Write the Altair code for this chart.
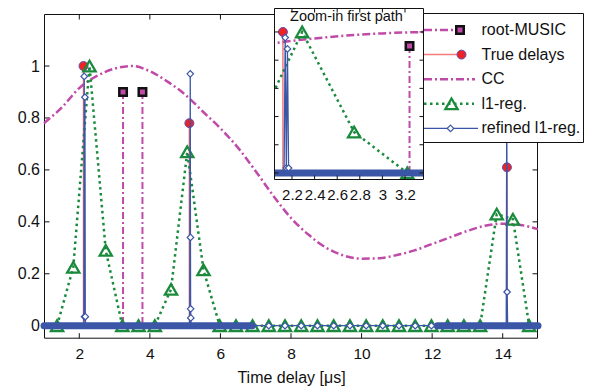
import altair as alt
import pandas as pd

# ------------------------------------------------------------------ data
cc_x = [1.0, 1.5, 2.0, 2.5, 3.0, 3.5, 4.0, 4.5, 5.0, 5.5, 6.0, 6.5, 7.0, 7.5,
        8.0, 8.5, 9.0, 9.5, 10.0, 10.5, 11.0, 11.5, 12.0, 12.5, 13.0, 13.5,
        14.0, 14.5, 15.0]
cc_y = [0.78, 0.84, 0.915, 0.962, 0.99, 1.0, 0.98, 0.94, 0.89, 0.825, 0.76,
        0.685, 0.595, 0.50, 0.415, 0.35, 0.30, 0.27, 0.258, 0.26, 0.272,
        0.29, 0.315, 0.34, 0.365, 0.385, 0.393, 0.388, 0.372]

music_x = [3.24, 3.79]
music_y = [0.90, 0.90]

true_x = [2.12, 5.12, 14.12]
true_y = [1.00, 0.78, 0.61]

l1_x = [1.37, 1.83, 2.29, 2.75, 3.22, 3.68, 4.14, 4.60, 5.06, 5.52, 5.98,
        6.44, 6.91, 7.37, 7.83, 8.29, 8.75, 9.21, 9.67, 10.13, 10.60, 11.06,
        11.52, 11.98, 12.44, 12.90, 13.36, 13.83, 14.29, 14.75]
l1_y = [0, 0.225, 1.0, 0.29, 0, 0, 0, 0.14, 0.67, 0.215, 0,
        0, 0, 0, 0, 0, 0, 0, 0, 0, 0, 0,
        0, 0, 0, 0, 0, 0.43, 0.41, 0]

ref_x = [1.0, 2.13, 2.14, 2.15, 2.16, 2.17, 2.18,
         5.13, 5.145, 5.15, 5.155, 5.16, 5.17, 6.9,
         7.37, 7.83, 8.29, 8.75, 9.21, 9.67, 10.13, 10.60, 11.06, 11.52, 11.98,
         12.2, 14.10, 14.115, 14.125, 14.14, 15.0]
ref_y = [0, 0, 0.96, 0.035, 0.88, 0.035, 0,
         0, 0.97, 0.34, 0.065, 0.03, 0, 0,
         0, 0, 0, 0, 0, 0, 0, 0, 0, 0, 0,
         0, 0, 0.88, 0.13, 0, 0]

band_start = [1.0, 12.15]
band_end = [6.9, 15.0]

main_xticks = [2, 4, 6, 8, 10, 12, 14]
main_yticks = [0, 0.2, 0.4, 0.6, 0.8, 1]
inset_xticks = [2.2, 2.4, 2.6, 2.8, 3, 3.2]
inset_yticks = [0, 0.2, 0.4, 0.6, 0.8, 1]

legend_labels = ["root-MUSIC", "True delays", "CC", "l1-reg.", "refined l1-reg."]
x_title = "Time delay [μs]"
inset_title = "Zoom-in first path"

# ------------------------------------------------------------------ style
FONT = "Liberation Sans"
INK = "#111111"
MAG = "#c04aa8"
RED = "#ee2226"
REDLINE = "#f27a7a"
EDGE = "#5a4fb0"
GREEN = "#1a8a3c"
BLUE = "#3b56a6"

# view (= inset) sits at page (274, 8); everything else placed relative to it
IW, IH = 150, 172
MX = alt.Scale(domain=[1, 15], range=[-230, 264], nice=False, zero=False)
MY = alt.Scale(domain=[-0.05, 1.2], range=[330.7, 6.1], nice=False, zero=False)
IX = alt.Scale(domain=[2.041, 3.368], range=[0, IW], nice=False, zero=False)
IY = alt.Scale(domain=[-0.05, 1.17], range=[IH, 0], nice=False, zero=False)

cc_df = pd.DataFrame({"x": cc_x, "y": cc_y})
music_df = pd.DataFrame({"x": music_x, "y": music_y, "base": 0.0})
true_df = pd.DataFrame({"x": true_x, "y": true_y, "base": 0.0})
l1_df = pd.DataFrame({"x": l1_x, "y": l1_y})
ref_df = pd.DataFrame({"x": ref_x, "y": ref_y})
ref_mk = ref_df[(ref_df.y > 0) | ((ref_df.x > 7.0) & (ref_df.x < 12.1))]
band_df = pd.DataFrame({"x": band_start, "x2": band_end, "y": 0.0})
one = pd.DataFrame({"k": [0]})


def X(f, s, axis=None):
    return alt.X(f"{f}:Q", scale=s, axis=axis)


def Y(f, s, axis=None):
    return alt.Y(f"{f}:Q", scale=s, axis=axis)


def series(sx, sy, clip):
    L = []
    L.append(alt.Chart(music_df).mark_rule(color=MAG, strokeWidth=2, strokeDash=[7, 3, 2, 3], clip=clip)
             .encode(x=X("x", sx), y=Y("y", sy), y2="base:Q"))
    L.append(alt.Chart(music_df).mark_point(shape="square", filled=True, color=MAG, stroke=INK,
                                            strokeWidth=2.5, size=56, opacity=1, clip=clip)
             .encode(x=X("x", sx), y=Y("y", sy)))
    L.append(alt.Chart(true_df).mark_rule(color=REDLINE, strokeWidth=1.5, clip=clip)
             .encode(x=X("x", sx), y=Y("y", sy), y2="base:Q"))
    L.append(alt.Chart(true_df).mark_point(shape="circle", filled=True, color=RED, stroke=EDGE,
                                           strokeWidth=1, size=80, opacity=1, clip=clip)
             .encode(x=X("x", sx), y=Y("y", sy)))
    L.append(alt.Chart(cc_df).mark_line(color=MAG, strokeWidth=2.5, strokeDash=[8, 3, 2, 3],
                                        interpolate="monotone", clip=clip)
             .encode(x=X("x", sx), y=Y("y", sy)))
    L.append(alt.Chart(l1_df).mark_line(color=GREEN, strokeWidth=2.5, strokeDash=[2.5, 3.5], clip=clip)
             .encode(x=X("x", sx), y=Y("y", sy)))
    L.append(alt.Chart(l1_df).mark_point(shape="triangle-up", filled=False, color=GREEN,
                                         strokeWidth=2.3, size=150, opacity=1, clip=clip)
             .encode(x=X("x", sx), y=Y("y", sy)))
    L.append(alt.Chart(ref_df).mark_line(color=BLUE, strokeWidth=1.3, clip=clip)
             .encode(x=X("x", sx), y=Y("y", sy)))
    L.append(alt.Chart(band_df).mark_rule(color=BLUE, strokeWidth=7, strokeCap="round", clip=clip)
             .encode(x=X("x", sx), x2="x2:Q", y=Y("y", sy)))
    L.append(alt.Chart(ref_mk).mark_point(shape="diamond", filled=True, color="white", stroke=BLUE,
                                          strokeWidth=1.2, size=42, opacity=1, clip=clip)
             .encode(x=X("x", sx), y=Y("y", sy)))
    return L


def xticks(values, sx, y0, y1, axis=None):
    return alt.Chart(pd.DataFrame({"v": values})).mark_rule(color=INK, strokeWidth=1).encode(
        x=X("v", sx, axis), y=alt.value(y0), y2=alt.value(y1))


def yticks(values, sy, x0, x1, axis=None):
    return alt.Chart(pd.DataFrame({"v": values})).mark_rule(color=INK, strokeWidth=1).encode(
        y=Y("v", sy, axis), x=alt.value(x0), x2=alt.value(x1))


def box(x0, x1, y0, y1, fill=None):
    if fill:
        m = alt.Chart(one).mark_rect(fill=fill, stroke=INK, strokeWidth=1)
    else:
        m = alt.Chart(one).mark_rect(fillOpacity=0, stroke=INK, strokeWidth=1)
    return m.encode(x=alt.value(x0), x2=alt.value(x1), y=alt.value(y0), y2=alt.value(y1))


main_x_axis = alt.Axis(values=main_xticks, orient="bottom", offset=330.7 - IH, ticks=False, tickSize=0,
                       domain=False, grid=False, labelFont=FONT, labelFontSize=15.5, labelColor=INK,
                       labelPadding=8, labelFlush=False, labelOverlap=False, format="~g",
                       title=x_title, titleFont=FONT, titleFontSize=16, titleFontWeight="normal",
                       titleColor=INK, titleY=43.5, titleBaseline="alphabetic")
main_y_axis = alt.Axis(values=main_yticks, orient="left", offset=229.5, ticks=False, tickSize=0,
                       domain=False, grid=False, labelFont=FONT, labelFontSize=16, labelColor=INK,
                       labelPadding=5, labelFlush=False, labelOverlap=False, format="~g", title=None)
inset_x_axis = alt.Axis(values=inset_xticks, orient="bottom", offset=0, ticks=False, tickSize=0,
                        domain=False, grid=False, labelFont=FONT, labelFontSize=15, labelColor=INK,
                        labelPadding=7, labelFlush=False, labelOverlap=False, format="~g", title=None)

layers = []
# ---- main axes
layers.append(box(-229.5, 263.5, 6.5, 330.2))
layers.append(xticks(main_xticks, MX, 330.2, 325.2, main_x_axis))
layers.append(xticks(main_xticks, MX, 6.5, 11.5))
layers.append(yticks(main_yticks, MY, -229.5, -224.5, main_y_axis))
layers.append(yticks(main_yticks, MY, 263.5, 258.5))
layers += series(MX, MY, False)

# ---- inset
layers.append(alt.Chart(one).mark_rect(fill="white").encode(
    x=alt.value(0), x2=alt.value(IW), y=alt.value(0), y2=alt.value(IH)))
layers += series(IX, IY, True)
layers.append(box(0.5, IW - 0.5, 0.5, IH - 0.5))
layers.append(xticks(inset_xticks, IX, IH - 0.5, IH - 4.5, inset_x_axis))
layers.append(xticks(inset_xticks, IX, 0.5, 4.5))
layers.append(yticks(inset_yticks, IY, 0.5, 4.5))
layers.append(yticks(inset_yticks, IY, IW - 0.5, IW - 4.5))
layers.append(alt.Chart(one).mark_text(font=FONT, fontSize=14.5, color=INK, align="center",
                                       baseline="alphabetic").encode(
    x=alt.value(72.5), y=alt.value(13), text=alt.value(inset_title)))

# ---- legend
LY = alt.Scale(domain=[0, 4], range=[22, 120.4], nice=False, zero=False)
leg_df = pd.DataFrame({"label": legend_labels, "row": list(range(len(legend_labels)))})
layers.append(box(149.5, 309.5, 5.5, 134.5, fill="white"))


def leg(row):
    return alt.Chart(leg_df).transform_filter(alt.datum.row == row)


layers.append(leg(0).mark_rule(color=MAG, strokeWidth=2.5, strokeDash=[8, 3, 2, 3]).encode(
    x=alt.value(150), x2=alt.value(182), y=Y("row", LY)))
layers.append(leg(0).mark_point(shape="square", filled=True, color=MAG, stroke=INK, strokeWidth=2.5,
                                size=56, opacity=1).encode(x=alt.value(186), y=Y("row", LY)))
layers.append(leg(1).mark_rule(color=REDLINE, strokeWidth=1.5).encode(
    x=alt.value(150), x2=alt.value(184), y=Y("row", LY)))
layers.append(leg(1).mark_point(shape="circle", filled=True, color=RED, stroke=EDGE, strokeWidth=1,
                                size=80, opacity=1).encode(x=alt.value(187.5), y=Y("row", LY)))
layers.append(leg(2).mark_rule(color=MAG, strokeWidth=2.5, strokeDash=[8, 3, 2, 3]).encode(
    x=alt.value(150), x2=alt.value(201), y=Y("row", LY)))
layers.append(leg(3).mark_rule(color=GREEN, strokeWidth=2.5, strokeDash=[2.5, 3.5]).encode(
    x=alt.value(150), x2=alt.value(200), y=Y("row", LY)))
layers.append(leg(3).mark_point(shape="triangle-up", filled=False, color=GREEN, strokeWidth=2.3,
                                size=150, opacity=1).encode(x=alt.value(177.5), y=Y("row", LY)))
layers.append(leg(4).mark_rule(color=BLUE, strokeWidth=1.3).encode(
    x=alt.value(150), x2=alt.value(204), y=Y("row", LY)))
layers.append(leg(4).mark_point(shape="diamond", filled=True, color="white", stroke=BLUE,
                                strokeWidth=1.2, size=42, opacity=1).encode(x=alt.value(176.5), y=Y("row", LY)))
layers.append(alt.Chart(leg_df).mark_text(font=FONT, fontSize=16, color=INK, align="left",
                                          baseline="middle").encode(
    x=alt.value(207.5), y=Y("row", LY), text="label:N"))

chart = (
    alt.layer(*layers)
    .resolve_scale(x="independent", y="independent")
    .properties(width=IW, height=IH, autosize=alt.AutoSizeParams(type="none"),
                padding={"left": 266, "top": 0, "right": 160, "bottom": 206})
    .configure_view(strokeWidth=0)
)

chart.save("out.html", embed_options={"renderer": "svg", "actions": False})
